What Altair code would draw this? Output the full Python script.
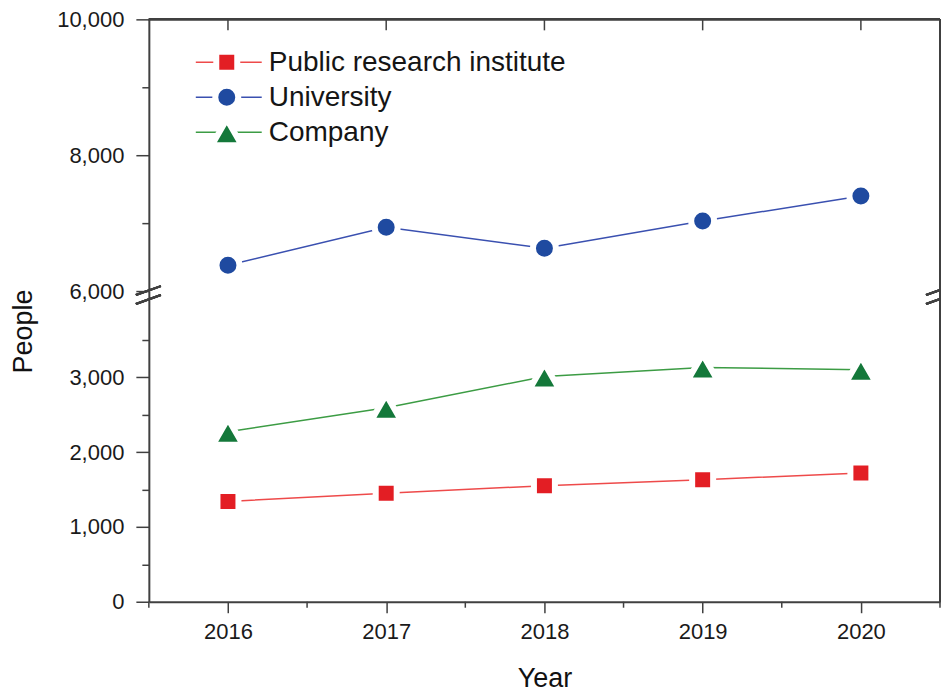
import altair as alt
import pandas as pd

# ---- data ----
years = [2016, 2017, 2018, 2019, 2020]
series = ["Public research institute", "University", "Company"]
public = [1340, 1450, 1550, 1630, 1720]
university = [6380, 6940, 6630, 7030, 7400]
company = [2270, 2590, 3010, 3130, 3100]

x_minor = [2015.5, 2016.5, 2017.5, 2018.5, 2019.5, 2020.5]
upper_ticks = [6000, 7000, 8000, 9000, 10000]
lower_ticks = [0, 500, 1000, 1500, 2000, 2500, 3000, 3500]

# ---- styling ----
marker_colors = ["#e31e24", "#1f4aa0", "#14783a"]
line_colors = ["#ee4a4a", "#3a50b0", "#3c9c44"]
shapes = ["square", "circle", "triangle-up"]
sizes = [441, 529, 900]
FONT = "Liberation Sans"
FRAME = "#404040"

W = 792
H_UP = 272
H_LO = 311
X_DOMAIN = [2015.5, 2020.5]
UP_DOMAIN = [6000, 10000]
LO_DOMAIN = [0, 4150]

rows = []
for name, vals in zip(series, [public, university, company]):
    for yr, v in zip(years, vals):
        rows.append({"Year": yr, "People": v, "Series": name})
df = pd.DataFrame(rows)
years_df = pd.DataFrame({"Year": years})
minor_df = pd.DataFrame({"Year": x_minor})

x_scale = alt.Scale(domain=X_DOMAIN, nice=False, zero=False)

# ---------------- axes ----------------
up_axis = alt.Axis(
    values=upper_ticks,
    format=",d",
    labelExpr="datum.value % 2000 === 0 ? datum.label : ''",
    tickSize={"condition": {"test": "datum.value % 2000 === 0", "value": 13}, "value": 7},
    labelPadding=12,
    labelOverlap=False,
    title=None,
)
lo_axis = alt.Axis(
    values=lower_ticks,
    format=",d",
    labelExpr="datum.value % 1000 === 0 ? datum.label : ''",
    tickSize={"condition": {"test": "datum.value % 1000 === 0", "value": 13}, "value": 7},
    labelPadding=12,
    labelOverlap=False,
    title="People",
    titleX=-111,
    titleY=40,
    titleAngle=270,
    titleAlign="center",
    titleBaseline="bottom",
)
x_axis = alt.Axis(
    values=years,
    format="d",
    tickSize=11,
    labelPadding=9,
    labelOverlap=False,
    labelFlush=False,
    title="Year",
    titlePadding=23,
)

up_x = alt.X("Year:Q", scale=x_scale, axis=None)
lo_x = alt.X("Year:Q", scale=x_scale, axis=x_axis)
up_y = alt.Y("People:Q", scale=alt.Scale(domain=UP_DOMAIN, nice=False, zero=False), axis=up_axis)
lo_y = alt.Y("People:Q", scale=alt.Scale(domain=LO_DOMAIN, nice=False, zero=False), axis=lo_axis)


def series_layers(i, xenc, yenc):
    base = alt.Chart(df).transform_filter(alt.datum.Series == series[i])
    line = base.mark_line(strokeWidth=1.5, color=line_colors[i]).encode(x=xenc, y=yenc)
    pts = base.mark_point(
        filled=True, opacity=1, fill=marker_colors[i], shape=shapes[i], size=sizes[i],
        stroke="white", strokeWidth=6, strokeJoin="round",
    ).encode(x=xenc, y=yenc)
    return [line, pts]


# ---------------- upper panel ----------------
top_frame = alt.Chart(years_df).mark_rule(color=FRAME, strokeWidth=2).encode(
    x=alt.value(0), x2=alt.value(W), y=alt.value(0)
)
right_frame_up = alt.Chart(years_df).mark_rule(color=FRAME, strokeWidth=2).encode(
    x=alt.value(W), y=alt.value(0), y2=alt.value(H_UP)
)
top_ticks = alt.Chart(years_df).mark_rule(color=FRAME, strokeWidth=1.5).encode(
    x=up_x, y=alt.value(0), y2=alt.value(11)
)

legend_layers = []
for i, name in enumerate(series):
    ly = 43 + 35 * i
    ldf = pd.DataFrame({"Series": [name]})
    legend_layers.append(
        alt.Chart(ldf).mark_rule(color=line_colors[i], strokeWidth=1.5).encode(
            x=alt.value(47), x2=alt.value(113), y=alt.value(ly)
        )
    )
    legend_layers.append(
        alt.Chart(ldf).mark_point(
            filled=True, opacity=1, fill=marker_colors[i], shape=shapes[i],
            size=sizes[i], stroke="white", strokeWidth=6, strokeJoin="round",
        ).encode(x=alt.value(78), y=alt.value(ly))
    )
    legend_layers.append(
        alt.Chart(ldf).mark_text(
            align="left", baseline="middle", font=FONT, fontSize=28, color="#151515"
        ).encode(x=alt.value(120), y=alt.value(ly + 1), text="Series:N")
    )

up_anchor = alt.Chart(df).transform_filter(alt.datum.Series == "University").mark_point(
    opacity=0
).encode(x=up_x, y=up_y)

upper = alt.layer(
    up_anchor, top_frame, right_frame_up, top_ticks,
    *series_layers(1, up_x, up_y), *legend_layers
).properties(width=W, height=H_UP)

# ---------------- lower panel ----------------
lo_anchor = alt.Chart(df).transform_filter(alt.datum.Series != "University").mark_point(
    opacity=0
).encode(x=lo_x, y=lo_y)
right_frame_lo = alt.Chart(years_df).mark_rule(color=FRAME, strokeWidth=2).encode(
    x=alt.value(W), y=alt.value(0), y2=alt.value(H_LO)
)
minor_x_ticks = alt.Chart(minor_df).mark_rule(color=FRAME, strokeWidth=1.5).encode(
    x=lo_x, y=alt.value(H_LO), y2=alt.value(H_LO + 6)
)

break_layers = []
for (x1, y1, x2, y2) in [(-13, 4, 12, -5), (-13, 13, 12, 4), (W - 14, 4, W, -1), (W - 14, 13, W, 8)]:
    break_layers.append(
        alt.Chart(years_df).mark_rule(color=FRAME, strokeWidth=2).encode(
            x=alt.value(x1), y=alt.value(y1), x2=alt.value(x2), y2=alt.value(y2)
        )
    )

lower = alt.layer(
    lo_anchor, right_frame_lo, minor_x_ticks,
    *series_layers(2, lo_x, lo_y), *series_layers(0, lo_x, lo_y),
    *break_layers
).properties(width=W, height=H_LO)

chart = (
    alt.vconcat(upper, lower, spacing=0, bounds="flush")
    .properties(padding={"left": 2, "top": 0, "right": 0, "bottom": 0})
    .configure_view(stroke=None)
    .configure_axis(
        grid=False,
        domainColor=FRAME,
        domainWidth=2,
        tickColor=FRAME,
        tickWidth=1.5,
        labelFont=FONT,
        labelFontSize=22,
        labelColor="#1a1a1a",
        titleFont=FONT,
        titleFontSize=27,
        titleFontWeight="normal",
        titleColor="#111111",
    )
)

chart.save("out.html", embed_options={"renderer": "svg", "actions": False})
